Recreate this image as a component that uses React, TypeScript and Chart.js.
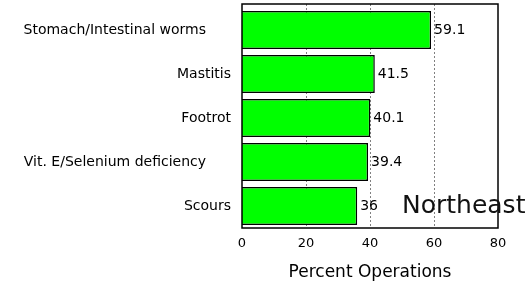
import React, { useEffect, useRef } from "react";
import { Chart, registerables } from "chart.js";

Chart.register(...registerables);

const categories = [
  "Stomach/Intestinal worms",
  "Mastitis",
  "Footrot",
  "Vit. E/Selenium deficiency",
  "Scours",
];
const values = [59.1, 41.5, 40.1, 39.4, 36];
const valueLabels = ["59.1", "41.5", "40.1", "39.4", "36"];
const xTicks = [0, 20, 40, 60, 80];
const gridValues = [20, 40, 60];
const regionLabel = "Northeast";
const axisTitle = "Percent Operations";

const FONT = "'DejaVu Sans', Arial, sans-serif";

const W = 528;
const H = 287;
const AREA_LEFT = 242;
const AREA_RIGHT = 498;
const AREA_TOP = 8;
const AREA_BOTTOM = 228;

const framePlugin = {
  id: "frameAndLabels",
  beforeDatasetsDraw(chart: any) {
    const { ctx, chartArea, scales } = chart;
    const xs = scales.x;
    ctx.save();
    ctx.strokeStyle = "#808080";
    ctx.lineWidth = 1;
    ctx.setLineDash([2, 2]);
    gridValues.forEach((v) => {
      const px = Math.round(xs.getPixelForValue(v)) + 0.5;
      ctx.beginPath();
      ctx.moveTo(px, chartArea.top - 4);
      ctx.lineTo(px, chartArea.bottom);
      ctx.stroke();
    });
    ctx.restore();
  },
  afterDatasetsDraw(chart: any) {
    const { ctx, chartArea, scales } = chart;
    ctx.save();
    ctx.strokeStyle = "#000";
    ctx.lineWidth = 1.5;
    ctx.strokeRect(
      chartArea.left,
      chartArea.top - 4,
      chartArea.right - chartArea.left,
      chartArea.bottom - chartArea.top + 4
    );
    const meta = chart.getDatasetMeta(0);
    ctx.fillStyle = "#000";
    ctx.font = `14px ${FONT}`;
    ctx.textAlign = "left";
    ctx.textBaseline = "middle";
    meta.data.forEach((bar: any, i: number) => {
      ctx.fillText(valueLabels[i], bar.x + 3, bar.y);
    });
    // category labels: right-aligned, long ones pulled further left
    const ys = scales.y;
    ctx.font = `14px ${FONT}`;
    ctx.textAlign = "right";
    categories.forEach((c, i) => {
      const y = ys.getPixelForValue(i);
      const w = ctx.measureText(c).width;
      const rightEdge = w > 150 ? chartArea.left - 36 : chartArea.left - 11;
      ctx.fillText(c, rightEdge, y);
    });
    ctx.restore();
  },
};

export default function App() {
  const ref = useRef<HTMLCanvasElement | null>(null);

  useEffect(() => {
    document.body.style.margin = "0";
    if (!ref.current) return;
    const chart = new Chart(ref.current, {
      type: "bar",
      data: {
        labels: categories,
        datasets: [
          {
            data: values,
            backgroundColor: "#00ff00",
            borderColor: "#000000",
            borderWidth: 1.5,
            barPercentage: 0.86,
            categoryPercentage: 1,
          },
        ],
      },
      options: {
        indexAxis: "y",
        animation: false,
        responsive: false,
        maintainAspectRatio: false,
        layout: { padding: { top: AREA_TOP, right: W - AREA_RIGHT, left: 0, bottom: 0 } },
        plugins: {
          legend: { display: false },
          tooltip: { enabled: false },
        },
        scales: {
          x: {
            type: "linear",
            min: 0,
            max: 80,
            afterBuildTicks(scale: any) {
              scale.ticks = xTicks.map((v) => ({ value: v }));
            },
            afterFit(scale: any) {
              scale.height = H - AREA_BOTTOM;
              scale.paddingLeft = 0;
              scale.paddingRight = 0;
            },
            grid: { display: false, drawTicks: false },
            border: { display: false },
            ticks: {
              color: "#000",
              font: { family: FONT, size: 13 },
              padding: 8,
              maxRotation: 0,
            },
            title: {
              display: true,
              text: axisTitle,
              color: "#000",
              font: { family: FONT, size: 17 },
              padding: { top: 0, bottom: 4 },
            },
          },
          y: {
            type: "category",
            afterFit(scale: any) {
              scale.width = AREA_LEFT;
              scale.paddingTop = 0;
              scale.paddingBottom = 0;
            },
            grid: { display: false, drawTicks: false },
            border: { display: false },
            ticks: { display: false },
          },
        },
      },
      plugins: [framePlugin],
    });
    return () => chart.destroy();
  }, []);

  return (
    <div style={{ position: "relative", width: W, height: H, background: "#fff" }}>
      <canvas ref={ref} width={W} height={H} style={{ display: "block" }} />
      <div
        style={{
          position: "absolute",
          left: 402,
          top: 190,
          fontFamily: FONT,
          fontSize: 25,
          lineHeight: "30px",
          color: "#111",
          whiteSpace: "nowrap",
        }}
      >
        {regionLabel}
      </div>
    </div>
  );
}
